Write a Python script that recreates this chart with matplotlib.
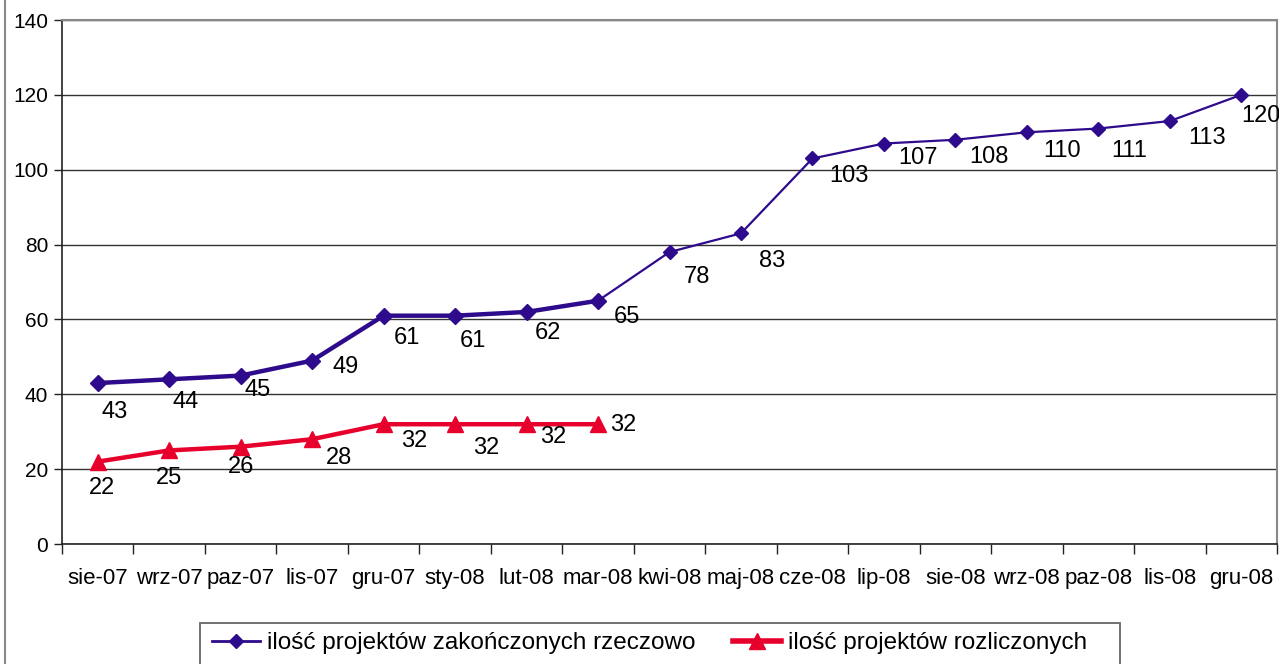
import matplotlib
matplotlib.use('Agg')
import matplotlib.pyplot as plt
from matplotlib.lines import Line2D
from matplotlib.patches import Rectangle

plt.rcParams['font.family'] = ['Liberation Sans', 'DejaVu Sans']

miesiace = ['sie-07', 'wrz-07', 'paz-07', 'lis-07', 'gru-07', 'sty-08', 'lut-08', 'mar-08',
            'kwi-08', 'maj-08', 'cze-08', 'lip-08', 'sie-08', 'wrz-08', 'paz-08', 'lis-08', 'gru-08']
zakonczone = [43, 44, 45, 49, 61, 61, 62, 65, 78, 83, 103, 107, 108, 110, 111, 113, 120]
rozliczone = [22, 25, 26, 28, 32, 32, 32, 32]
nazwy = ['ilość projektów zakończonych rzeczowo', 'ilość projektów rozliczonych']

# przesuniecia etykiet w pikselach (dx, dy w dol)
off_zak = [(17, 29), (16, 23), (17, 14), (33, 6), (23, 22), (18, 25), (21, 21), (29, 16),
           (27, 25), (31, 28), (36, 18), (34, 14), (34, 17), (35, 19), (31, 22), (37, 17), (20, 21)]
off_roz = [(4, 26), (0, 28), (0, 20), (27, 19), (31, 17), (31, 24), (27, 13), (25, 1)]

fioletowy = '#2e0b8c'
czerwony = '#e8002d'
W, H = 1279, 664

fig = plt.figure(figsize=(W/100, H/100), dpi=100)
ax = fig.add_axes([62/W, 1 - 544/H, (1277 - 62)/W, 524/H])

x = list(range(len(miesiace)))
n = len(rozliczone)

# grube odcinki (do mar-08) i cienkie dalej
ax.plot(x[:n], zakonczone[:n], color=fioletowy, lw=3.2, marker='D', ms=8.5, zorder=4)
ax.plot(x[n-1:], zakonczone[n-1:], color=fioletowy, lw=1.6, marker='D', ms=7, zorder=4)
ax.plot(x[:n], rozliczone, color=czerwony, lw=3.2, marker='^', ms=11, zorder=4)

px = 72 / 100
for i, v in enumerate(zakonczone):
    dx, dy = off_zak[i]
    ax.annotate(str(v), (i, v), xytext=(dx*px, -dy*px), textcoords='offset points',
                ha='center', va='center', fontsize=17, zorder=5)
for i, v in enumerate(rozliczone):
    dx, dy = off_roz[i]
    ax.annotate(str(v), (i, v), xytext=(dx*px, -dy*px), textcoords='offset points',
                ha='center', va='center', fontsize=17, zorder=5)

ax.set_xlim(-0.5, len(miesiace) - 0.5)
ax.set_ylim(0, 140)
ax.set_yticks(range(0, 141, 20))
ax.set_xticks(x)
ax.set_xticklabels(miesiace, fontsize=16)
ax.set_xticks([i - 0.5 for i in range(len(miesiace) + 1)], minor=True)
ax.tick_params(axis='x', which='major', length=0, pad=17)
ax.tick_params(axis='x', which='minor', length=7, width=1, color='#222222', direction='out')
ax.tick_params(axis='y', labelsize=15, length=6, width=1, color='#222222', direction='out', pad=4)
ax.grid(axis='y', color='#333333', lw=1)
ax.set_axisbelow(True)

for s in ['left', 'bottom']:
    ax.spines[s].set_color('#222222')
    ax.spines[s].set_linewidth(1.2)
for s in ['top', 'right']:
    ax.spines[s].set_color('#888888')
    ax.spines[s].set_linewidth(1.5)

# ramka wykresu z lewej
fig.add_artist(Line2D([5/W, 5/W], [0, 1], color='#888888', lw=1.5))

# legenda w ramce jak w Excelu
fig.add_artist(Rectangle((200/W, -0.05), (1120 - 200)/W, 0.05 + 1 - 623/H,
                         transform=fig.transFigure, facecolor='white',
                         edgecolor='#666666', lw=1.3))
uchwyty = [Line2D([], [], color=fioletowy, lw=2, marker='D', ms=7),
           Line2D([], [], color=czerwony, lw=4, marker='^', ms=11)]
fig.legend(uchwyty, nazwy, loc='center left', bbox_to_anchor=(212/W, 1 - 643/H), ncol=2,
           fontsize=17.5, frameon=False, handlelength=1.98, handletextpad=0.29,
           columnspacing=1.52, borderpad=0, borderaxespad=0)

fig.savefig('out.png', dpi=100)
